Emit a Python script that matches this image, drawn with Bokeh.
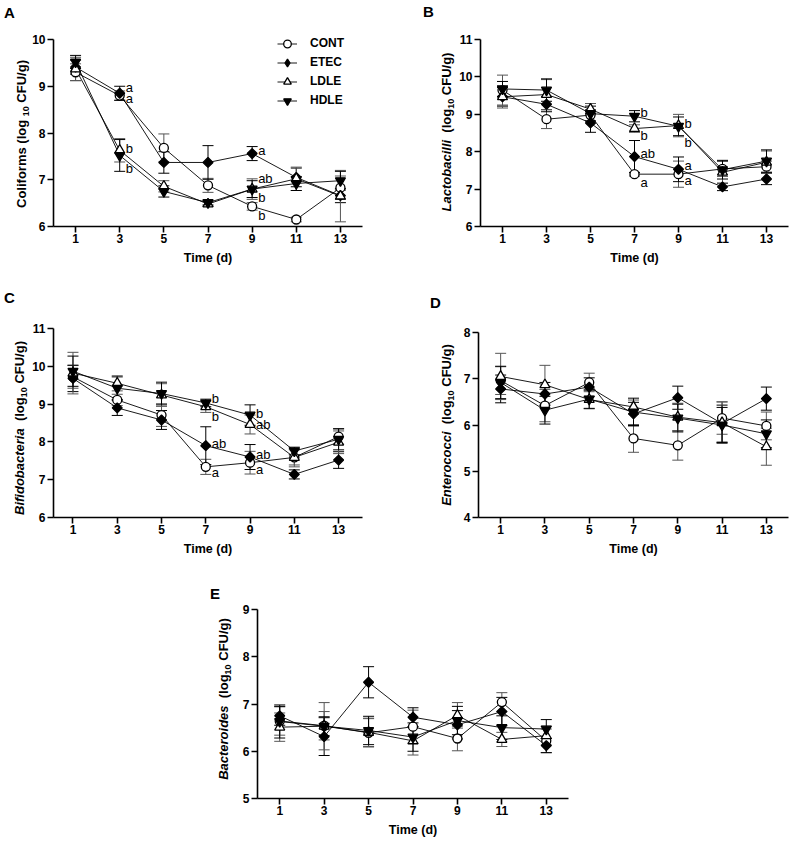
import math
from bokeh.plotting import figure
from bokeh.models import (ColumnDataSource, Whisker, TeeHead, Legend, LegendItem,
                          FixedTicker, Range1d, Div)
from bokeh.layouts import row, column
from bokeh.embed import file_html
from bokeh.resources import INLINE
from bokeh.core.properties import value

# ---------------- data ----------------
days = [1, 3, 5, 7, 9, 11, 13]
groups = ["CONT", "ETEC", "LDLE", "HDLE"]

# A: Coliforms
coli_cont = [9.30, 8.80, 7.68, 6.88, 6.43, 6.15, 6.83]
coli_cont_err = [0.18, 0.10, 0.30, 0.15, 0.08, 0.05, 0.25]
coli_etec = [9.41, 8.85, 7.37, 7.37, 7.56, 7.05, 6.66]
coli_etec_err = [0.15, 0.15, 0.23, 0.36, 0.15, 0.20, 0.15]
coli_ldle = [9.37, 7.63, 6.86, 6.48, 6.80, 7.02, 6.65]
coli_ldle_err = [0.25, 0.25, 0.12, 0.05, 0.22, 0.25, 0.55]
coli_hdle = [9.52, 7.52, 6.75, 6.51, 6.80, 6.92, 6.98]
coli_hdle_err = [0.14, 0.34, 0.12, 0.05, 0.18, 0.15, 0.20]
coli_sig_x = [3, 3, 3, 3, 9, 9, 9, 9]
coli_sig_y = [8.98, 8.74, 7.67, 7.24, 7.63, 7.03, 6.63, 6.24]
coli_sig_t = ["a", "a", "b", "b", "a", "ab", "b", "b"]

# B: Lactobacilli
lact_cont = [9.65, 8.87, 8.98, 7.40, 7.40, 7.54, 7.60]
lact_cont_err = [0.40, 0.25, 0.15, 0.05, 0.35, 0.20, 0.15]
lact_etec = [9.47, 9.27, 8.77, 7.87, 7.53, 7.06, 7.27]
lact_etec_err = [0.25, 0.20, 0.25, 0.43, 0.33, 0.10, 0.15]
lact_ldle = [9.47, 9.53, 9.14, 8.62, 8.70, 7.45, 7.72]
lact_ldle_err = [0.30, 0.40, 0.15, 0.10, 0.30, 0.30, 0.30]
lact_hdle = [9.68, 9.65, 9.02, 8.95, 8.68, 7.52, 7.75]
lact_hdle_err = [0.20, 0.30, 0.20, 0.15, 0.25, 0.25, 0.30]
lact_sig_x = [7, 7, 7, 7, 9, 9, 9, 9]
lact_sig_y = [9.06, 8.44, 7.94, 7.17, 8.75, 8.26, 7.62, 7.24]
lact_sig_t = ["b", "b", "ab", "a", "b", "b", "a", "a"]

# C: Bifidobacteria
bifi_cont = [9.72, 9.11, 8.71, 7.34, 7.45, 7.59, 8.14]
bifi_cont_err = [0.30, 0.15, 0.30, 0.20, 0.30, 0.25, 0.20]
bifi_etec = [9.68, 8.90, 8.58, 7.90, 7.60, 7.14, 7.52]
bifi_etec_err = [0.35, 0.20, 0.25, 0.50, 0.33, 0.12, 0.22]
bifi_ldle = [9.82, 9.55, 9.24, 8.93, 8.46, 7.59, 7.99]
bifi_ldle_err = [0.55, 0.20, 0.30, 0.15, 0.25, 0.20, 0.30]
bifi_hdle = [9.87, 9.42, 9.28, 9.03, 8.71, 7.76, 8.07]
bifi_hdle_err = [0.40, 0.30, 0.30, 0.10, 0.27, 0.10, 0.28]
bifi_sig_x = [7, 7, 7, 7, 9, 9, 9, 9]
bifi_sig_y = [9.15, 8.66, 7.96, 7.18, 8.75, 8.47, 7.67, 7.27]
bifi_sig_t = ["b", "b", "ab", "a", "b", "ab", "ab", "a"]

# D: Enterococci
ente_cont = [6.96, 6.42, 6.92, 5.71, 5.56, 6.15, 5.98]
ente_cont_err = [0.30, 0.35, 0.20, 0.30, 0.32, 0.35, 0.30]
ente_etec = [6.78, 6.67, 6.82, 6.24, 6.59, 6.03, 6.57]
ente_etec_err = [0.30, 0.25, 0.20, 0.25, 0.25, 0.40, 0.25]
ente_ldle = [7.05, 6.87, 6.55, 6.39, 6.17, 6.05, 5.53]
ente_ldle_err = [0.50, 0.42, 0.20, 0.15, 0.30, 0.45, 0.40]
ente_hdle = [6.92, 6.32, 6.56, 6.28, 6.15, 6.00, 5.81]
ente_hdle_err = [0.35, 0.30, 0.20, 0.30, 0.30, 0.38, 0.30]

# E: Bacteroides
bact_cont = [6.64, 6.54, 6.39, 6.52, 6.27, 7.04, 6.22]
bact_cont_err = [0.30, 0.30, 0.30, 0.35, 0.26, 0.20, 0.25]
bact_etec = [6.75, 6.31, 7.46, 6.72, 6.56, 6.84, 6.12]
bact_etec_err = [0.20, 0.40, 0.33, 0.20, 0.30, 0.30, 0.15]
bact_ldle = [6.51, 6.53, 6.40, 6.22, 6.76, 6.25, 6.33]
bact_ldle_err = [0.30, 0.50, 0.30, 0.30, 0.27, 0.15, 0.20]
bact_hdle = [6.63, 6.53, 6.44, 6.30, 6.65, 6.50, 6.47]
bact_hdle_err = [0.35, 0.20, 0.30, 0.30, 0.30, 0.25, 0.20]

FONT = "Liberation Sans"
SUB = '<sub style="font-size:9px;line-height:0;">10</sub>'

MARK = {
    "CONT": dict(marker="circle", size=9, fill_color="white", angle=0.0),
    "ETEC": dict(marker="square", size=7, fill_color="black", angle=math.pi / 4),
    "LDLE": dict(marker="triangle", size=10, fill_color="white", angle=0.0),
    "HDLE": dict(marker="inverted_triangle", size=10, fill_color="black", angle=0.0),
}
LEGEND_MARK = {"CONT": "circle", "ETEC": "diamond", "LDLE": "triangle", "HDLE": "inverted_triangle"}
ERR_COLOR = {"CONT": "#555555", "ETEC": "#000000", "LDLE": "#555555", "HDLE": "#000000"}


def label_div(w, h, letter, lx, ltop, cx, cy, ylabel_html):
    html = (
        f'<div style="position:relative;width:{w}px;height:{h}px;'
        f"font-family:'Liberation Sans',Arial,sans-serif;color:#000;\">"
        f'<div style="position:absolute;left:{lx}px;top:{ltop}px;font-size:15px;'
        f'font-weight:bold;line-height:12px;">{letter}</div>'
        f'<div style="position:absolute;left:{cx}px;top:{cy}px;'
        f'transform:translate(-50%,-50%) rotate(-90deg);white-space:nowrap;'
        f'font-size:13px;font-weight:bold;line-height:15px;">{ylabel_html}</div>'
        f'</div>'
    )
    return Div(text=html, width=w, height=h, margin=0)


def make_panel(spec):
    ox, oy = spec["origin"]
    fl, ft, fw, fh = spec["frame"]
    w, h = spec["size"]
    xr, yr = spec["xr"], spec["yr"]
    bl, bt = fl - ox, ft - oy
    br, bb = w - bl - fw, h - bt - fh

    p = figure(width=w, height=h, x_range=Range1d(*xr), y_range=Range1d(*yr),
               output_backend="svg", toolbar_location=None,
               min_border_left=bl, min_border_right=br, min_border_top=bt, min_border_bottom=bb,
               background_fill_color="white", border_fill_color="white")
    p.outline_line_color = None
    p.xgrid.visible = False
    p.ygrid.visible = False

    for ax in (p.xaxis[0], p.yaxis[0]):
        ax.axis_line_width = 1.6
        ax.axis_line_color = "black"
        ax.major_tick_line_width = 1.6
        ax.major_tick_line_color = "black"
        ax.major_tick_out = 6
        ax.major_tick_in = 0
        ax.minor_tick_out = 0
        ax.minor_tick_in = 0
        ax.major_label_text_font = FONT
        ax.major_label_text_font_style = "bold"
        ax.major_label_text_font_size = "12px"
        ax.major_label_text_color = "black"
    p.xaxis.ticker = FixedTicker(ticks=days)
    p.yaxis.ticker = FixedTicker(ticks=spec["yticks"])
    p.yaxis.bounds = (spec["yticks"][0], spec["yticks"][-1])
    p.xaxis.major_label_standoff = 1
    p.yaxis.major_label_standoff = 2
    p.xaxis.axis_label = "Time (d)"
    p.xaxis.axis_label_text_font = FONT
    p.xaxis.axis_label_text_font_style = "bold"
    p.xaxis.axis_label_text_font_size = "12.5px"
    p.xaxis.axis_label_text_color = "black"
    p.xaxis.axis_label_standoff = 5

    line_r, srcs = {}, {}
    for g in groups:
        vals, errs = spec["series"][g]
        src = ColumnDataSource(dict(x=days, y=vals,
                                    lo=[v - e for v, e in zip(vals, errs)],
                                    hi=[v + e for v, e in zip(vals, errs)]))
        srcs[g] = src
        line_r[g] = p.line("x", "y", source=src, line_color="black", line_width=0.9)
        c = ERR_COLOR[g]
        wk = Whisker(source=src, base="x", upper="hi", lower="lo", line_color=c, line_width=1,
                     upper_head=TeeHead(size=11, line_color=c, line_width=1),
                     lower_head=TeeHead(size=11, line_color=c, line_width=1))
        p.add_layout(wk)
    for g in groups:
        m = MARK[g]
        p.scatter("x", "y", source=srcs[g], marker=m["marker"], size=m["size"],
                  fill_color=m["fill_color"], line_color="black", line_width=1.3, angle=m["angle"])

    if spec.get("sig"):
        sx, sy, st = spec["sig"]
        p.text(x=sx, y=sy, text=st, x_offset=6, text_align="left", text_baseline="middle",
               text_font=value(FONT), text_font_size="13px", text_color="black")

    if spec.get("legend"):
        items = []
        for g in groups:
            lsrc = ColumnDataSource(dict(x=[float("nan")], y=[float("nan")]))
            m = MARK[g]
            lr = p.scatter("x", "y", source=lsrc, marker=LEGEND_MARK[g], size=m["size"],
                           fill_color=m["fill_color"], line_color="black", line_width=1.3)
            items.append(LegendItem(label=g, renderers=[line_r[g], lr]))
        lx, ly = spec["legend"]
        leg = Legend(items=items, location=(lx - fl, (ft + fh) - ly),
                     label_text_font=FONT, label_text_font_style="bold",
                     label_text_font_size="12px", label_text_color="black",
                     glyph_width=20, glyph_height=19, label_height=19, label_standoff=13,
                     spacing=0, padding=0, margin=0, border_line_color=None,
                     background_fill_alpha=0)
        p.add_layout(leg)
    return p


def ser(c, ce, e, ee, l, le, hd, he):
    return {"CONT": (c, ce), "ETEC": (e, ee), "LDLE": (l, le), "HDLE": (hd, he)}


# frame = (left, top, width, height) in page pixels; plots in one row share top/bottom borders
specA = dict(origin=(29, 0), size=(363, 284), frame=(51, 32, 311, 194), xr=(0, 14), yr=(6, 10.15),
             yticks=[6, 7, 8, 9, 10],
             series=ser(coli_cont, coli_cont_err, coli_etec, coli_etec_err,
                        coli_ldle, coli_ldle_err, coli_hdle, coli_hdle_err),
             sig=(coli_sig_x, coli_sig_y, coli_sig_t), legend=(275, 109.5))
specB = dict(origin=(456, 0), size=(336, 284), frame=(478, 32, 310, 194), xr=(0, 14), yr=(6, 11.19),
             yticks=[6, 7, 8, 9, 10, 11],
             series=ser(lact_cont, lact_cont_err, lact_etec, lact_etec_err,
                        lact_ldle, lact_ldle_err, lact_hdle, lact_hdle_err),
             sig=(lact_sig_x, lact_sig_y, lact_sig_t))
specC = dict(origin=(29, 284), size=(363, 282), frame=(51, 328, 311, 189), xr=(0.12, 14.08), yr=(6, 11),
             yticks=[6, 7, 8, 9, 10, 11],
             series=ser(bifi_cont, bifi_cont_err, bifi_etec, bifi_etec_err,
                        bifi_ldle, bifi_ldle_err, bifi_hdle, bifi_hdle_err),
             sig=(bifi_sig_x, bifi_sig_y, bifi_sig_t))
specD = dict(origin=(456, 284), size=(336, 282), frame=(478, 328, 310, 189), xr=(0, 14), yr=(4, 8.0865),
             yticks=[4, 5, 6, 7, 8],
             series=ser(ente_cont, ente_cont_err, ente_etec, ente_etec_err,
                        ente_ldle, ente_ldle_err, ente_hdle, ente_hdle_err))
specE = dict(origin=(235, 566), size=(353, 275), frame=(257, 609, 311, 189), xr=(0, 14), yr=(5, 9),
             yticks=[5, 6, 7, 8, 9],
             series=ser(bact_cont, bact_cont_err, bact_etec, bact_etec_err,
                        bact_ldle, bact_ldle_err, bact_hdle, bact_hdle_err))

pA, pB, pC, pD, pE = (make_panel(s) for s in (specA, specB, specC, specD, specE))

dA = label_div(29, 284, "A", 4, 7, 21, 133.5, f"Coliforms (log {SUB} CFU/g)")
dB = label_div(64, 284, "B", 31, 6, 54, 131.5, f"<i>Lactobacilli</i>&nbsp; (log{SUB} CFU/g)")
dC = label_div(29, 282, "C", 4, 7.5, 19, 143.5, f"<i>Bifidobacteria</i>&nbsp; (log{SUB} CFU/g)")
dD = label_div(64, 282, "D", 38, 12.5, 54, 141, f"<i>Enterococci</i>&nbsp; (log{SUB} CFU/g)")
dE = label_div(235, 275, "E", 210, 22, 222.5, 132.5, f"<i>Bacteroides</i>&nbsp; (log{SUB} CFU/g)")

layout = column(row(dA, pA, dB, pB), row(dC, pC, dD, pD), row(dE, pE))

open("out.html", "w").write(file_html(layout, INLINE))
